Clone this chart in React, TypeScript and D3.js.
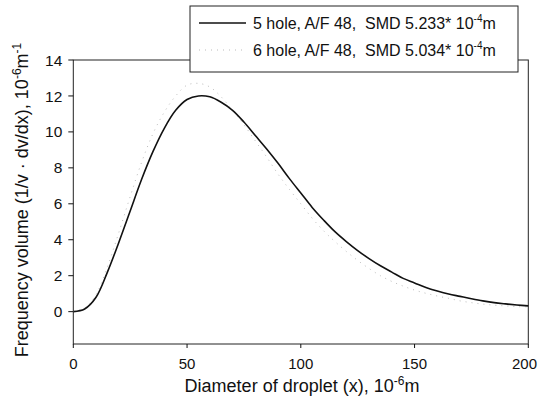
import React from 'react';
import * as d3 from 'd3';

// droplet diameter, 10^-6 m
const diameters = [0, 5, 10, 15, 20, 25, 30, 35, 40, 45, 50, 55, 60, 65, 70, 75, 80, 85, 90, 95, 100,
  105, 110, 115, 120, 125, 130, 135, 140, 145, 150, 155, 160, 165, 170, 175, 180, 185, 190, 195, 200];

const hole5 = [0, 0.15, 0.8, 2.2, 3.85, 5.6, 7.35, 8.9, 10.2, 11.2, 11.8, 12.0, 11.95, 11.65, 11.2, 10.55, 9.8, 9.05, 8.25, 7.4, 6.6,
  5.8, 5.1, 4.45, 3.9, 3.4, 2.95, 2.55, 2.2, 1.85, 1.6, 1.35, 1.15, 0.98, 0.85, 0.72, 0.6, 0.5, 0.43, 0.37, 0.32];

const hole6 = [0, 0.2, 0.95, 2.5, 4.4, 6.4, 8.3, 9.9, 11.1, 12.0, 12.6, 12.7, 12.5, 11.95, 11.2, 10.4, 9.5, 8.6, 7.65, 6.8, 6.0,
  5.2, 4.5, 3.9, 3.35, 2.85, 2.4, 2.0, 1.68, 1.42, 1.2, 1.02, 0.87, 0.74, 0.6, 0.5, 0.42, 0.36, 0.32, 0.28, 0.26];

const xTicks = [0, 50, 100, 150, 200];
const yTicks = [0, 2, 4, 6, 8, 10, 12, 14];

const legendItems = [
  { label: '5 hole, A/F 48,  SMD 5.233* 10', sup: '-4', tail: 'm' },
  { label: '6 hole, A/F 48,  SMD 5.034* 10', sup: '-4', tail: 'm' },
];

export default function App() {
  const W = 539, H = 401;
  const x = d3.scaleLinear().domain([0, 200]).range([73.3, 528.3]);
  const y = d3.scaleLinear().domain([-1.8, 14]).range([344, 60]);

  const line = d3.line<number>()
    .x((d, i) => x(diameters[i]))
    .y(d => y(d))
    .curve(d3.curveCatmullRom.alpha(0.5));

  const font = 'Liberation Sans, Arial, sans-serif';

  return (
    <svg width={W} height={H} style={{ position: 'absolute', left: 0, top: 0, background: '#fff' }}
      fontFamily={font}>
      {/* frame */}
      <rect x={x(0)} y={y(14)} width={x(200) - x(0)} height={y(-1.8) - y(14)}
        fill="none" stroke="#222" strokeWidth={1} />

      {/* y ticks */}
      {yTicks.map(t => (
        <g key={t}>
          <line x1={x(0) - 5} x2={x(0)} y1={y(t)} y2={y(t)} stroke="#111" />
          <text x={x(0) - 11} y={y(t)} dy="0.36em" textAnchor="end" fontSize={15.5} fill="#111">{t}</text>
        </g>
      ))}

      {/* x ticks, last label kept inside the page edge */}
      {xTicks.map(t => {
        const edge = x(t) + 13 > W - 1;
        return (
          <g key={t}>
            <line x1={x(t)} x2={x(t)} y1={y(-1.8)} y2={y(-1.8) + 4} stroke="#111" />
            <text x={edge ? W - 2 : x(t)} y={369} textAnchor={edge ? 'end' : 'middle'}
              fontSize={15} fill="#111">{t}</text>
          </g>
        );
      })}

      {/* series */}
      <path d={line(hole6) || ''} fill="none" stroke="#bbb" strokeWidth={1} strokeDasharray="1,5" />
      <path d={line(hole5) || ''} fill="none" stroke="#111" strokeWidth={1.6} />

      {/* axis labels */}
      <text x={302} y={392} textAnchor="middle" fontSize={18} fill="#111">
        Diameter of droplet (x), 10<tspan dy={-7} fontSize={12}>-6</tspan><tspan dy={7}>m</tspan>
      </text>
      <text transform="translate(28,200) rotate(-90)" textAnchor="middle" fontSize={18} fill="#111">
        Frequency volume (1/v · dv/dx), 10<tspan dy={-7} fontSize={12}>-6</tspan><tspan dy={7}>m</tspan>
        <tspan dy={-7} fontSize={12}>-1</tspan>
      </text>

      {/* legend */}
      <rect x={190} y={6} width={328} height={66} fill="#fff" stroke="#222" strokeWidth={1} />
      {legendItems.map((it, i) => (
        <g key={i}>
          <line x1={199} x2={246} y1={23 + i * 27} y2={23 + i * 27}
            stroke={i === 0 ? '#111' : '#bbb'} strokeWidth={i === 0 ? 1.6 : 1}
            strokeDasharray={i === 0 ? undefined : '1,5'} />
          <text x={253} y={29 + i * 27} fontSize={16} fill="#111" style={{ whiteSpace: 'pre' }}>
            {it.label}<tspan dy={-7} fontSize={10}>{it.sup}</tspan><tspan dy={7}>{it.tail}</tspan>
          </text>
        </g>
      ))}
    </svg>
  );
}
